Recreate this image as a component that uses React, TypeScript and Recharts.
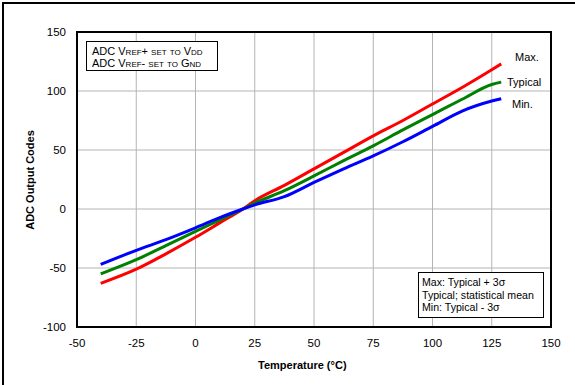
import { LineChart, Line, XAxis, YAxis, CartesianGrid, ReferenceArea } from 'recharts';

const temps = [-40, -25, -12.5, 0, 10, 20, 25, 37.5, 50, 62.5, 75, 87.5, 100, 112.5, 125, 129];
const maxCodes = [-63, -51, -38, -24, -12, 0, 7, 20, 34, 48, 62, 75, 89, 103, 118, 123];
const typCodes = [-55, -43, -31, -19, -9.5, 0, 5, 15.5, 28, 41, 53.5, 67, 80, 93, 105.5, 107.5];
const minCodes = [-47, -35, -26, -16, -7.5, 0, 3.5, 10.5, 22.5, 34, 45, 57, 70, 83, 91.5, 93.5];

const xTicks = [-50, -25, 0, 25, 50, 75, 100, 125, 150];
const yTicks = [-100, -50, 0, 50, 100, 150];

const font = '"Liberation Sans", Arial, sans-serif';

const data = temps.map((t, i) => ({
  temp: t,
  max: maxCodes[i],
  typ: typCodes[i],
  min: minCodes[i],
}));

const abs = (left: number, top: number, extra: React.CSSProperties = {}): React.CSSProperties => ({
  position: 'absolute',
  left,
  top,
  fontFamily: font,
  fontSize: 11,
  color: '#000',
  whiteSpace: 'nowrap',
  lineHeight: 1,
  ...extra,
});

export default function App() {
  return (
    <div style={{ position: 'relative', width: 575, height: 385, background: '#fff', fontFamily: font }}>
      <style>{'body{margin:0}'}</style>
      {/* outer frame, left and top only */}
      <div
        style={{
          position: 'absolute',
          left: 2,
          top: 2,
          width: 573,
          height: 383,
          borderLeft: '2px solid #000',
          borderTop: '2px solid #000',
          boxSizing: 'border-box',
        }}
      />
      <LineChart width={575} height={385} data={data} margin={{ top: 32, right: 24, left: 37, bottom: 28 }}>
        <CartesianGrid stroke="#b4b4b4" strokeWidth={1} />
        <XAxis
          dataKey="temp"
          type="number"
          domain={[-50, 150]}
          ticks={xTicks}
          axisLine={false}
          tickLine={false}
          tickMargin={6}
          height={30}
          tick={{ fontSize: 11.5, fill: '#000', fontFamily: font }}
        />
        <YAxis
          type="number"
          domain={[-100, 150]}
          ticks={yTicks}
          axisLine={false}
          tickLine={false}
          tickMargin={5}
          width={40}
          tick={{ fontSize: 11.5, fill: '#000', fontFamily: font }}
        />
        <Line type="monotone" dataKey="max" stroke="#ff0000" strokeWidth={3} dot={false} isAnimationActive={false} />
        <Line type="monotone" dataKey="typ" stroke="#008000" strokeWidth={3} dot={false} isAnimationActive={false} />
        <Line type="monotone" dataKey="min" stroke="#0000ff" strokeWidth={3} dot={false} isAnimationActive={false} />
        <ReferenceArea x1={-50} x2={150} y1={-100} y2={150} fill="none" fillOpacity={0} stroke="#000" strokeWidth={2} ifOverflow="visible" />
      </LineChart>

      {/* axis titles */}
      <div style={abs(258, 360, { fontWeight: 'bold' })}>Temperature (°C)</div>
      <div
        style={abs(30, 180, {
          fontWeight: 'bold',
          transform: 'translate(-50%, -50%) rotate(-90deg)',
        })}
      >
        ADC Output Codes
      </div>

      {/* series labels */}
      <div style={abs(515, 52)}>Max.</div>
      <div style={abs(507, 77)}>Typical</div>
      <div style={abs(512, 99)}>Min.</div>

      {/* top-left note */}
      <div
        style={abs(86, 41, {
          border: '1px solid #000',
          background: '#fff',
          width: 132,
          height: 30,
          boxSizing: 'border-box',
          padding: '3px 0 0 5px',
          fontSize: 11,
          lineHeight: '12px',
          fontVariant: 'small-caps',
        })}
      >
        <div>ADC Vref+ set to Vdd</div>
        <div>ADC Vref- set to Gnd</div>
      </div>

      {/* bottom-right note */}
      <div
        style={abs(418, 272, {
          border: '1px solid #000',
          background: '#fff',
          width: 126,
          height: 46,
          boxSizing: 'border-box',
          padding: '3px 0 0 3px',
          fontSize: 10.6,
          lineHeight: '12.5px',
        })}
      >
        <div>Max: Typical + 3σ</div>
        <div>Typical; statistical mean</div>
        <div>Min: Typical - 3σ</div>
      </div>
    </div>
  );
}
